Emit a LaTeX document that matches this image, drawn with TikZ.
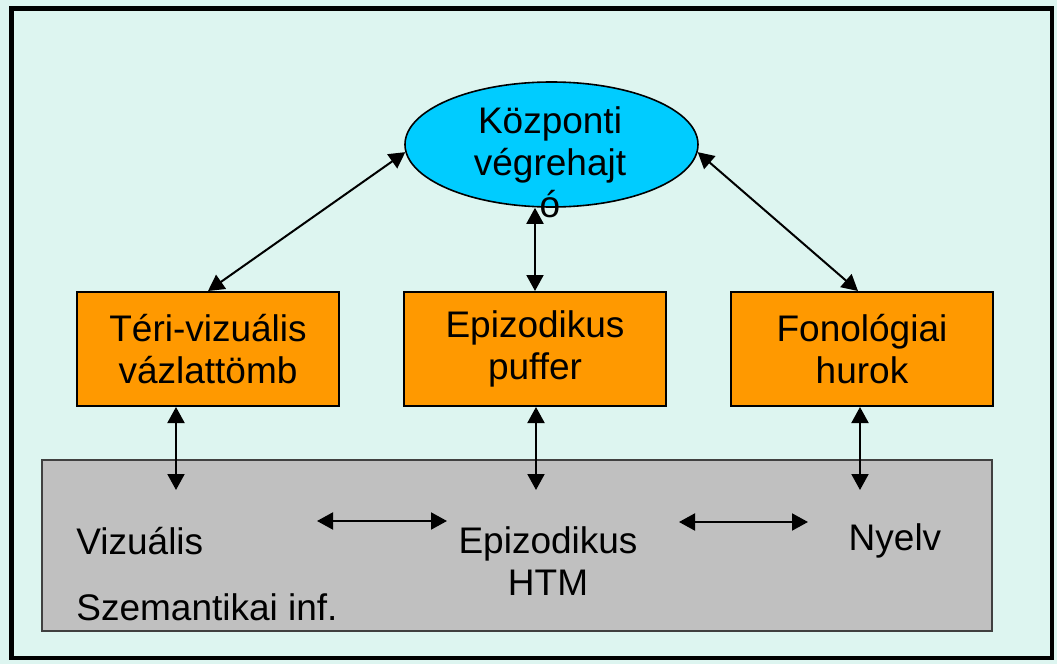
\documentclass[tikz,border=0pt]{standalone}
\usepackage{fontspec}
\setmainfont{Liberation Sans}
\usetikzlibrary{arrows.meta, positioning, shapes.geometric, calc}
\definecolor{bgcyan}{HTML}{DDF5F0}
\definecolor{ctrlblue}{HTML}{00CCFF}
\definecolor{boxorange}{HTML}{FF9900}
\definecolor{ltmgray}{HTML}{C0C0C0}
\definecolor{ltmedge}{HTML}{404040}

\begin{document}
\begin{tikzpicture}[x=0.5pt, y=-0.5pt,
	every node/.style={font=\fontsize{18.5}{21}\selectfont},
	slavebox/.style={draw,line width=1pt,fill=boxorange,minimum width=131pt,minimum height=57pt,align=center,inner sep=0pt},
	link/.style={>={Triangle[length=8pt,width=8.5pt]},<->,line width=1pt}]
	% Background and frame
	\fill[bgcyan] (0,0) rectangle (1057,664);
	\draw[line width=2.3pt] (11.5,8.5) rectangle (1052,658);
	
	% Long-term memory
	\node (ltm) at (517,545.5) [draw=ltmedge,line width=1pt,fill=ltmgray,minimum width=475pt,minimum height=85.5pt] {};
	\node (vis) at (76,541) [anchor=west,inner sep=0pt] {Vizuális};
	\node (sem) at (76,607) [anchor=west,inner sep=0pt] {Szemantikai inf.};
	\node (ehtm) at (548,561) [align=center] {Epizodikus\\HTM};
	\node (lang) at (895,541) {Nyelv};
	
	% Central executive
	\node (ctrl) at (551.5,144.5) [draw,thick,fill=ctrlblue,ellipse,minimum width=146.5pt,minimum height=62.5pt,inner sep=0pt] {};
	\node (ctrltext) at (550,162) [align=center] {Központi\\végrehajt\\ó};
	
	% Slave systems
	\node (sketch) at (208,349) [slavebox] {Téri-vizuális\\vázlattömb};
	\node (buffer) at (535,349) [slavebox] {Epizodikus\\puffer};
	\node (loop) at (862,349) [slavebox] {Fonológiai\\hurok};
	
	% Links to the executive
	\draw[link] (ctrl.183) -- (sketch.north);
	\draw[link] (buffer.north) -- (buffer.north |- ctrl.south);
	\draw[link] (ctrl.-3) -- ($(loop.north)+(-4,0)$);
	
	% Links to long-term memory
	\coordinate (visin) at (176,490);
	\coordinate (ehtmin) at (536,490);
	\coordinate (langin) at (860,490);
	\draw[link] (visin |- sketch.south) -- (visin);
	\draw[link] (ehtmin |- buffer.south) -- (ehtmin);
	\draw[link] (langin |- loop.south) -- (langin);
	
	% Links inside long-term memory
	\coordinate (l1) at (317,521);
	\coordinate (r1) at (447,521);
	\coordinate (l2) at (679,522);
	\coordinate (r2) at (808,522);
	\draw[link] (l1) -- (r1);
	\draw[link] (l2) -- (r2);
\end{tikzpicture}
\end{document}
